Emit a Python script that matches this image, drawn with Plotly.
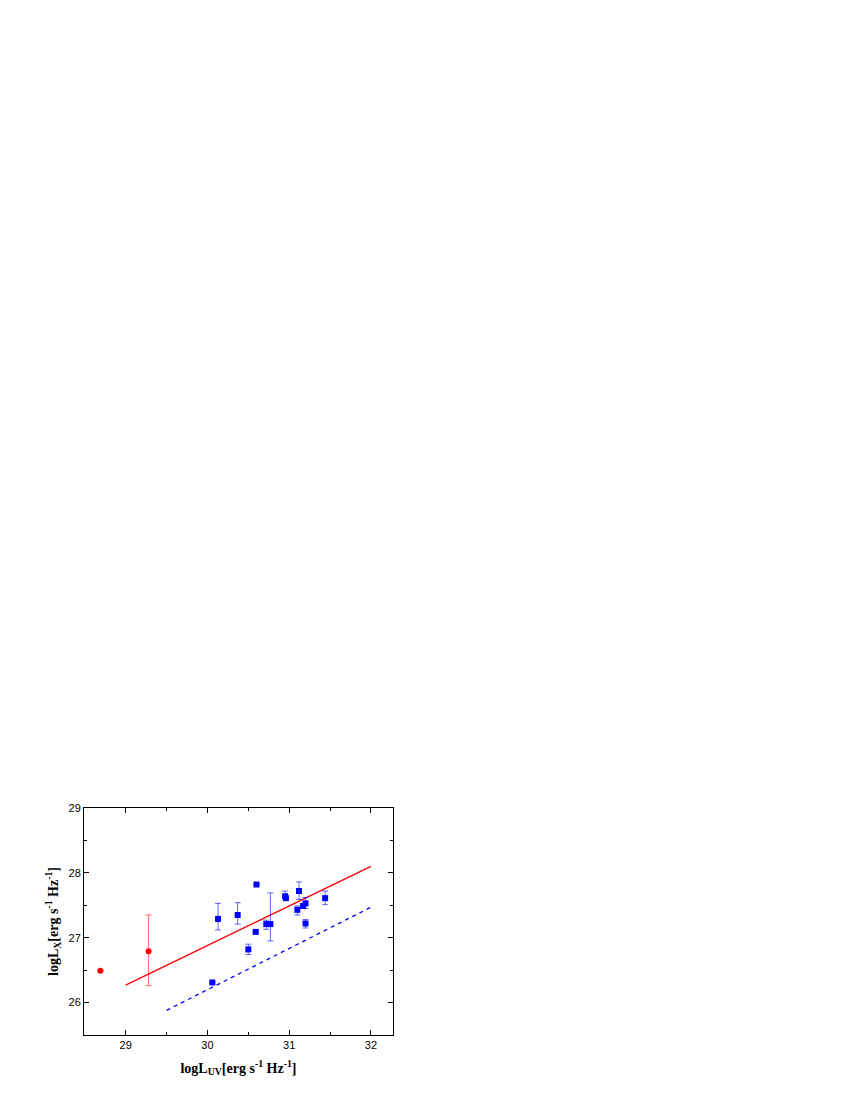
import plotly.graph_objects as go

red_x = [28.69, 29.28]
red_y = [26.49, 26.79]
red_up = [0, 0.56]
red_dn = [0, 0.53]

blue_x = [30.06, 30.13, 30.37, 30.50, 30.59, 30.60, 30.72, 30.77, 30.95, 30.96, 31.10, 31.12, 31.17, 31.20, 31.20, 31.44]
blue_y = [26.31, 27.29, 27.35, 26.82, 27.09, 27.82, 27.21, 27.21, 27.64, 27.61, 27.43, 27.72, 27.49, 27.53, 27.22, 27.61]
blue_up = [0, 0.24, 0.19, 0.08, 0.02, 0, 0.06, 0.48, 0.08, 0, 0.06, 0.14, 0, 0.09, 0.06, 0.11]
blue_dn = [0, 0.17, 0.14, 0.08, 0.02, 0, 0.08, 0.26, 0.02, 0, 0.08, 0.13, 0, 0.08, 0.07, 0.10]

red_line_x = [29.0, 32.0]
red_line_y = [26.27, 28.10]
blue_line_x = [29.5, 32.0]
blue_line_y = [25.88, 27.47]

fig = go.Figure()
fig.add_trace(go.Scatter(x=red_line_x, y=red_line_y, mode="lines", line=dict(color="red", width=1.3)))
fig.add_trace(go.Scatter(x=blue_line_x, y=blue_line_y, mode="lines", line=dict(color="blue", width=1.3, dash="4px,4px")))
fig.add_trace(go.Scatter(x=red_x, y=red_y, mode="markers",
    marker=dict(color="red", size=6, symbol="circle"),
    error_y=dict(type="data", symmetric=False, array=red_up, arrayminus=red_dn, color="rgba(255,0,0,0.6)", thickness=1, width=3)))
fig.add_trace(go.Scatter(x=blue_x, y=blue_y, mode="markers",
    marker=dict(color="blue", size=6, symbol="square"),
    error_y=dict(type="data", symmetric=False, array=blue_up, arrayminus=blue_dn, color="rgba(0,0,255,0.6)", thickness=1, width=3)))

font = dict(family="Liberation Serif", color="black")
axis_common = dict(showgrid=False, zeroline=False, showline=True, linecolor="black", linewidth=1,
                   mirror="ticks", ticks="inside", ticklen=5, tickcolor="black", automargin=False,
                   minor=dict(ticks="inside", ticklen=3, tickcolor="black", dtick=0.5),
                   tickfont=dict(family="Liberation Sans", size=11, color="black"))
fig.update_layout(
    width=850, height=1100, showlegend=False,
    paper_bgcolor="white", plot_bgcolor="white",
    margin=dict(l=76, r=465, t=800, b=73),
    font=font,
    xaxis=dict(range=[28.49, 32.27], dtick=1, tick0=29,
               title=dict(text="<b>logL<sub>UV</sub>[erg s<sup>-1</sup> Hz<sup>-1</sup>]</b>", font=dict(size=14, family="Liberation Serif"), standoff=12),
               **axis_common),
    yaxis=dict(range=[25.5, 29.0], dtick=1, tick0=26,
               title=dict(text="<b>logL<sub>X</sub>[erg s<sup>-1</sup> Hz<sup>-1</sup>]</b>", font=dict(size=14, family="Liberation Serif"), standoff=6),
               **axis_common),
)
fig.write_html("out.html")
